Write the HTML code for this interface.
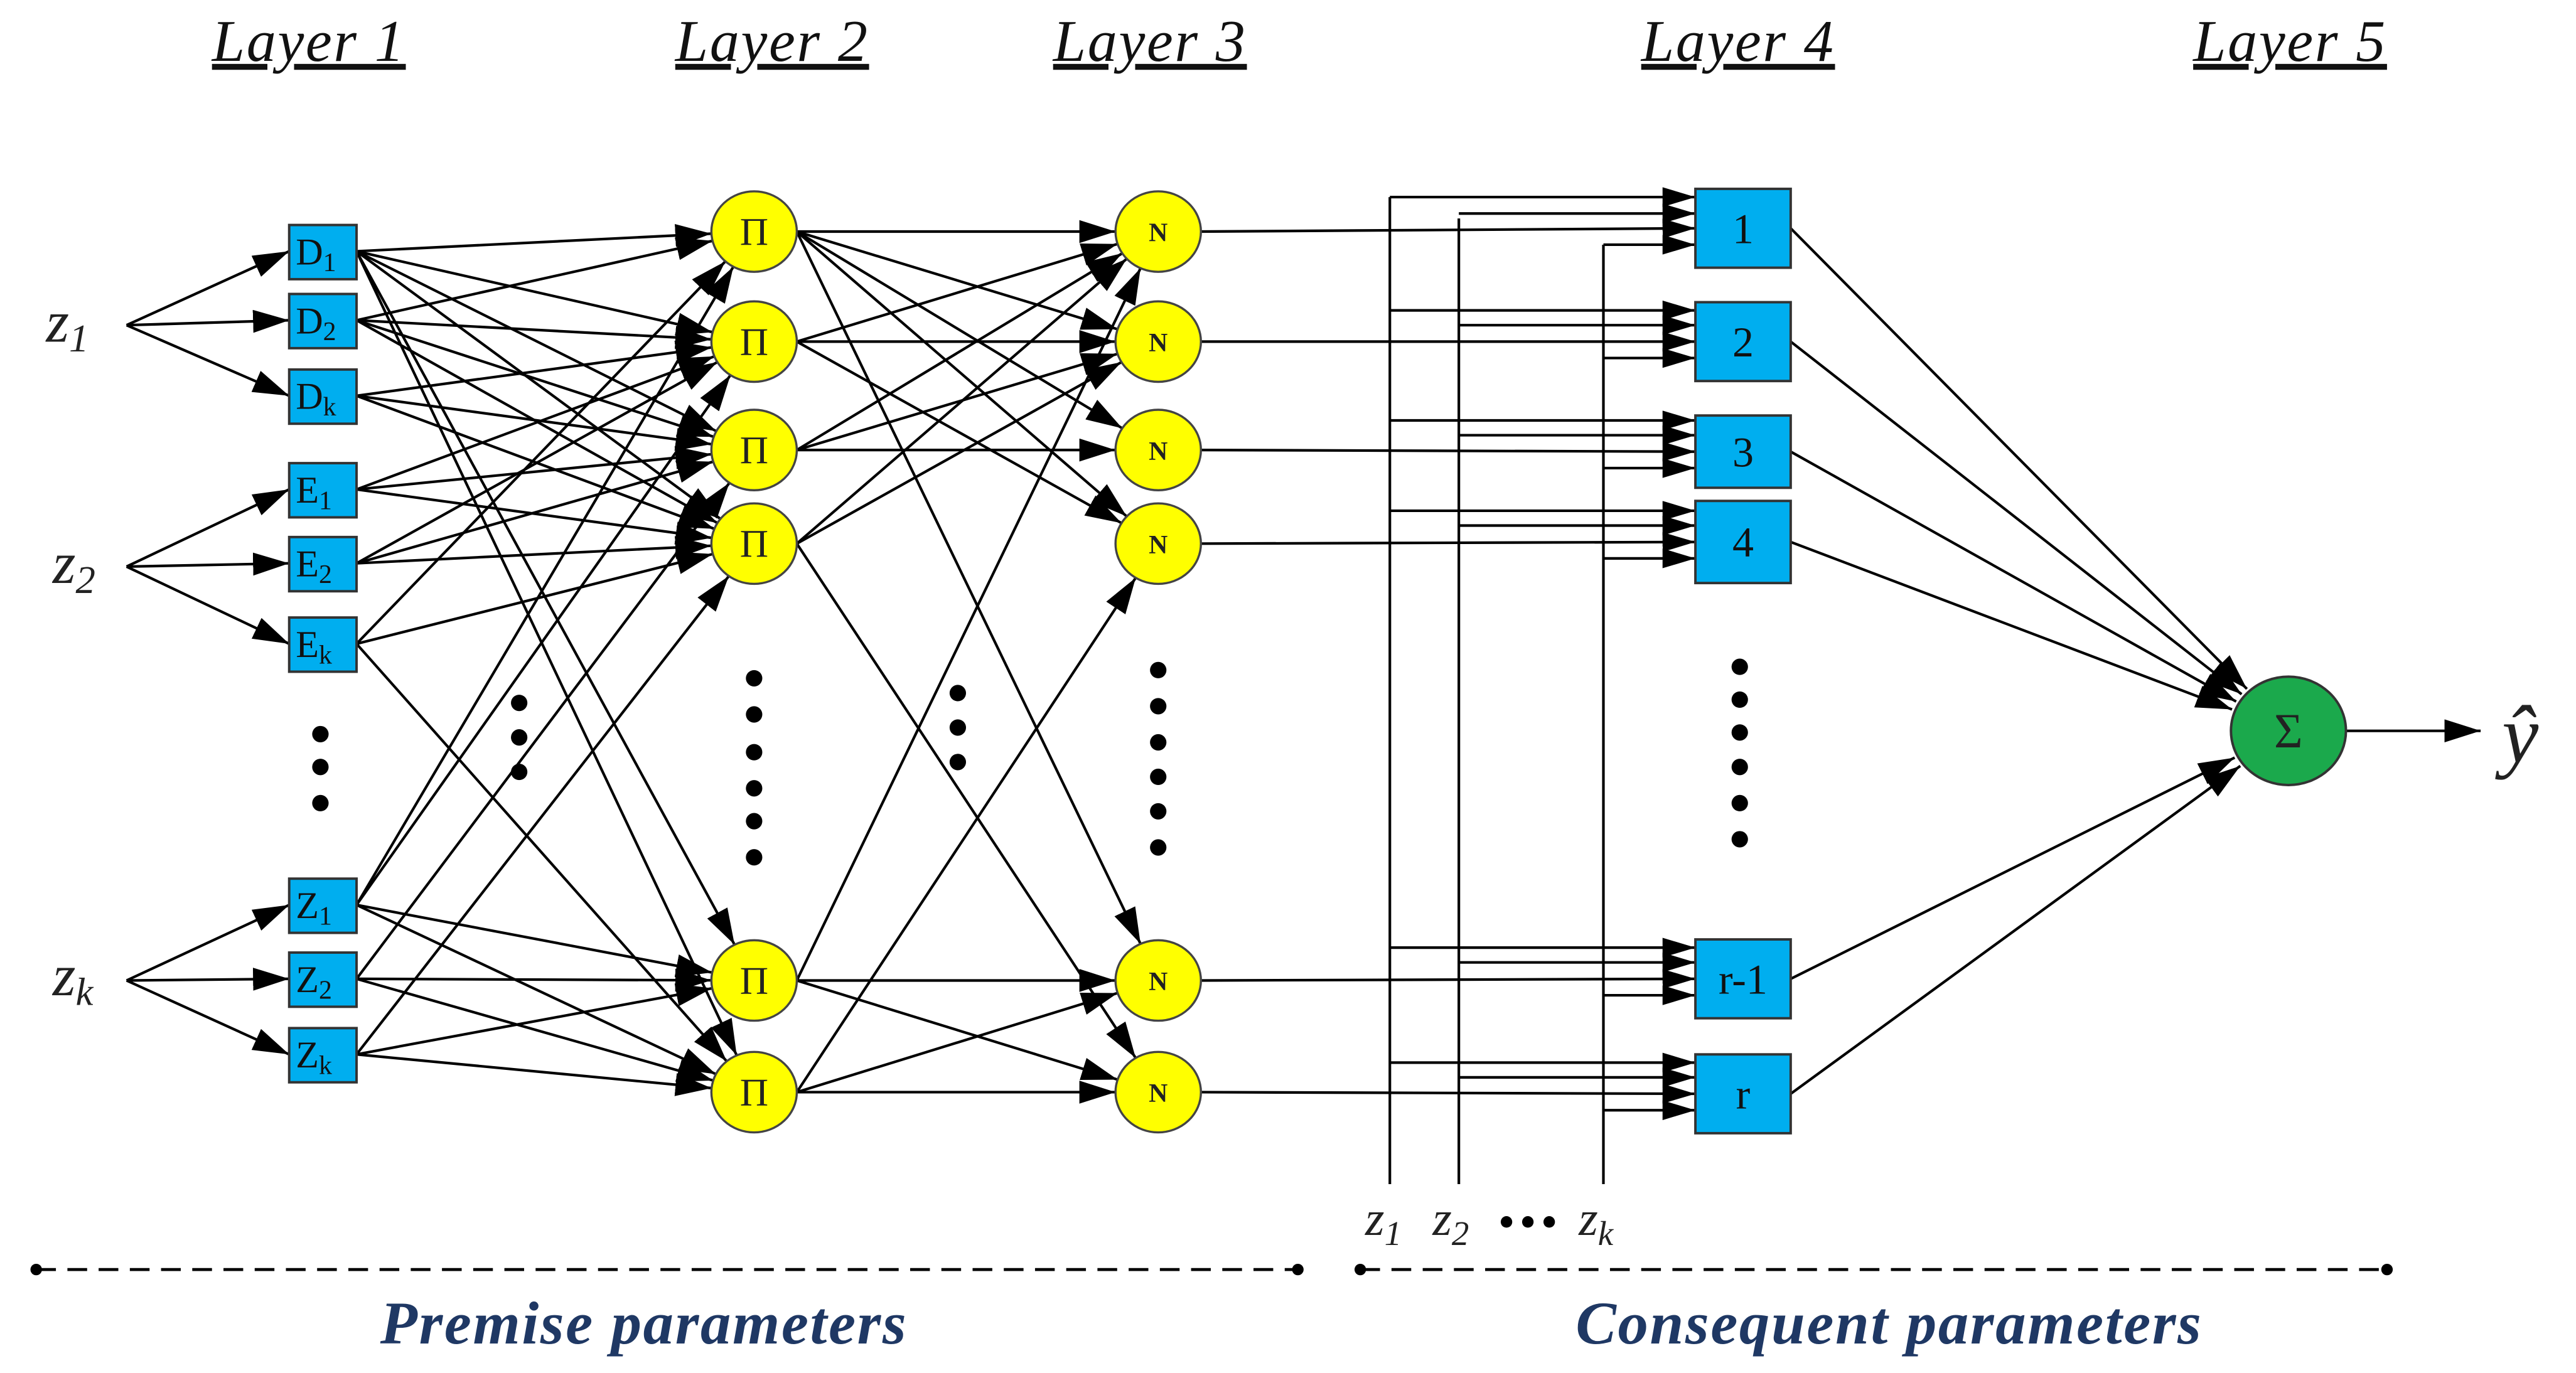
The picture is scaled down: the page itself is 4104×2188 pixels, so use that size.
<!DOCTYPE html>
<html><head><meta charset="utf-8"><style>
html,body{margin:0;padding:0;background:#fff;}
svg{display:block;}
.t{font-family:"Liberation Serif",serif;}
</style></head><body>
<svg id="s" width="4104" height="2188" viewBox="0 0 1568 836" xmlns="http://www.w3.org/2000/svg">
<defs>
<marker id="a" markerUnits="userSpaceOnUse" markerWidth="24" markerHeight="16" refX="22" refY="7" orient="auto"><path d="M0,0 L22,7 L0,14 Z" fill="#000"/></marker>
<marker id="b" markerUnits="userSpaceOnUse" markerWidth="24" markerHeight="14" refX="20" refY="6" orient="auto"><path d="M0,0 L20,6 L0,12 Z" fill="#000"/></marker>
</defs>
<g class="t" font-style="italic" font-size="36" fill="#111" text-anchor="middle" text-decoration="underline" letter-spacing="1">
<text x="188" y="37">Layer 1</text><text x="470" y="37">Layer 2</text><text x="700" y="37">Layer 3</text><text x="1058" y="37">Layer 4</text><text x="1394" y="37">Layer 5</text>
</g>
<g class="t" font-style="italic" font-size="36" fill="#222">
<text x="28" y="208">z<tspan font-size="24" dy="6">1</tspan></text>
<text x="32" y="355">z<tspan font-size="24" dy="6">2</tspan></text>
<text x="32" y="606">z<tspan font-size="24" dy="6">k</tspan></text>
</g>
<g id="lines" stroke="#000" stroke-width="1.6" fill="none"></g>
<g id="nodes"></g>
<g id="dots" fill="#000"></g>
<g class="t" font-style="italic" font-size="30" fill="#222">
<text x="831" y="752">z<tspan font-size="21" dy="6">1</tspan></text>
<text x="872" y="752">z<tspan font-size="21" dy="6">2</tspan></text>
<text x="961" y="752">z<tspan font-size="21" dy="6">k</tspan></text>
<text x="1523" y="464" font-size="50">ŷ</text>
</g>
<g stroke="#000" stroke-width="1.8" stroke-dasharray="12,7">
<line x1="22" y1="773" x2="790" y2="773"/><line x1="828" y1="773" x2="1453" y2="773"/>
</g>
<g fill="#000"><circle cx="22" cy="773" r="3.5"/><circle cx="790" cy="773" r="3.5"/><circle cx="828" cy="773" r="3.5"/><circle cx="1453" cy="773" r="3.5"/></g>
<g class="t" font-style="italic" font-weight="bold" font-size="37" fill="#1f3864" text-anchor="middle" letter-spacing="1">
<text x="392" y="818">Premise parameters</text>
<text x="1150" y="818">Consequent parameters</text>
</g>
</svg>
<script>
var NS="http://www.w3.org/2000/svg";
function el(p,t,a,txt){var e=document.createElementNS(NS,t);for(var k in a)e.setAttribute(k,a[k]);if(txt!=null)e.textContent=txt;document.getElementById(p).appendChild(e);return e;}
function ln(x1,y1,x2,y2,m){var a={x1:x1,y1:y1,x2:x2,y2:y2};if(m)a["marker-end"]="url(#"+m+")";el("lines","line",a);}
var L1=[153,195,241,298,343,392,551,596,642];
var L1n=[["D","1"],["D","2"],["D","k"],["E","1"],["E","2"],["E","k"],["Z","1"],["Z","2"],["Z","k"]];
var P=[141,208,274,331,597,665];
var Px=459,Nx=705,R=26,RY=24.5;
var inY=[198,345,597];
for(var i=0;i<3;i++)for(var j=0;j<3;j++)ln(77,inY[i],176,L1[i*3+j],"a");
var c12=[[0,1,2,3,4,5],[0,1,2,3],[1,2,3],[1,2,3],[1,2,3],[0,3,5],[0,1,4,5],[2,4,5],[3,4,5]];
function toE(x1,y1,cx,cy,rx,ry){var dx=cx-x1,dy=cy-y1;var t=1/Math.sqrt((dx*dx)/(rx*rx)+(dy*dy)/(ry*ry));return [cx-dx*t,cy-dy*t];}
for(var i=0;i<9;i++)c12[i].forEach(function(k){var e=toE(217,L1[i],Px,P[k],R,RY);ln(217,L1[i],e[0],e[1],"a");});
var c23=[[0,1,2,3,4],[0,1,3],[0,1,2],[0,1,5],[0,4,5],[3,4,5]];
for(var i=0;i<6;i++)c23[i].forEach(function(k){var sx=Px+R,e=toE(sx,P[i],Nx,P[k],R,RY);ln(sx,P[i],e[0],e[1],"a");});
var B=[[115,163],[184,232],[253,297],[305,355],[572,620],[642,690]];
var VX=[846,888,976];
ln(846,120,846,721);ln(888,133,888,721);ln(976,149,976,721);
for(var i=0;i<6;i++){var c=(B[i][0]+B[i][1])/2;
 var ys=(i==0)?[120,130,139,149]:[c-19,c-10,c,c+10];
 ln(VX[0],ys[0],1032,ys[0],"b");ln(VX[1],ys[1],1032,ys[1],"b");
 ln(Nx+R,P[i],1032,ys[2],"b");ln(VX[2],ys[3],1032,ys[3],"b");}
var Sx=1393,Sy=445;
for(var i=0;i<6;i++){var c=(B[i][0]+B[i][1])/2;var e=toE(1090,c,Sx,Sy,37,35);ln(1090,c,e[0],e[1],"a");}
ln(1428,445,1510,445,"a");
for(var i=0;i<9;i++){el("nodes","rect",{x:176,y:L1[i]-16,width:41,height:33,fill:"#00aeef",stroke:"#333","stroke-width":1.5});
 var t=el("nodes","text",{x:180,y:L1[i]+8,"font-family":"Liberation Serif,serif","font-size":23,fill:"#111"},L1n[i][0]);
 var s=document.createElementNS(NS,"tspan");s.setAttribute("font-size","16");s.setAttribute("dy","4");s.textContent=L1n[i][1];t.appendChild(s);}
for(var i=0;i<6;i++){el("nodes","ellipse",{cx:Px,cy:P[i],rx:R,ry:RY,fill:"#ffff00",stroke:"#444","stroke-width":1.3});
 el("nodes","text",{x:Px,y:P[i]+8,"text-anchor":"middle","font-family":"Liberation Serif,serif","font-size":24,fill:"#222"},"Π");
 el("nodes","ellipse",{cx:Nx,cy:P[i],rx:R,ry:RY,fill:"#ffff00",stroke:"#444","stroke-width":1.3});
 el("nodes","text",{x:Nx,y:P[i]+6,"text-anchor":"middle","font-family":"Liberation Serif,serif","font-weight":"bold","font-size":16,fill:"#222"},"N");}
var bl=["1","2","3","4","r-1","r"];
for(var i=0;i<6;i++){el("nodes","rect",{x:1032,y:B[i][0],width:58,height:B[i][1]-B[i][0],fill:"#00aeef",stroke:"#333","stroke-width":1.5});
 el("nodes","text",{x:1061,y:(B[i][0]+B[i][1])/2+9,"text-anchor":"middle","font-family":"Liberation Serif,serif","font-size":26,fill:"#111"},bl[i]);}
el("nodes","ellipse",{cx:Sx,cy:Sy,rx:35,ry:33,fill:"#1ba94c",stroke:"#333","stroke-width":1.5});
el("nodes","text",{x:Sx,y:Sy+10,"text-anchor":"middle","font-family":"Liberation Serif,serif","font-size":30,fill:"#222"},"Σ");
function dots(x,ys,r){ys.forEach(function(y){el("dots","circle",{cx:x,cy:y,r:r||5});});}
dots(195,[447,467,489]);dots(316,[428,449,470]);dots(459,[413,435,458,480,500,522]);
dots(583,[422,443,464]);dots(705,[408,430,452,473,494,516]);dots(1059,[406,426,446,467,489,511]);
dots(917,[744],3.5);dots(930,[744],3.5);dots(943,[744],3.5);
</script>
</body></html>
